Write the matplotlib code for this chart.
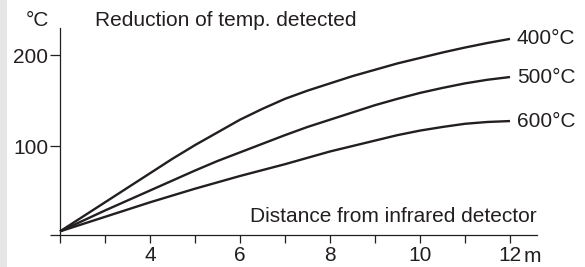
import matplotlib
matplotlib.use("Agg")
import matplotlib.pyplot as plt
from matplotlib.patches import Rectangle

plt.rcParams['font.family'] = ['Liberation Sans', 'DejaVu Sans']

distance = [2, 2.5, 3, 3.5, 4, 4.5, 5, 5.5, 6, 6.5, 7, 7.5, 8, 8.5, 9, 9.5,
            10, 10.5, 11, 11.5, 12]
t400 = [6, 22, 38, 54, 70, 86, 101, 115, 129, 141, 152, 161, 169, 177, 184,
        191, 197, 203, 208.5, 213.5, 218]
t500 = [6, 17.5, 29, 40, 51, 62, 73, 83.5, 93, 102.5, 112, 121, 129, 137, 145,
        152, 158.5, 164, 169, 173, 176]
t600 = [6, 14, 22, 30, 38, 45.5, 53, 60, 67, 73.5, 80, 87, 94, 100, 106, 112,
        117, 121, 124.5, 126.5, 127.5]
series = [("400°C", t400), ("500°C", t500), ("600°C", t600)]
major_x = [4, 6, 8, 10, 12]
major_x_labels = ["4", "6", "8", "10", "12"]
minor_x = [2, 3, 5, 7, 9, 11]
major_y = [100, 200]

ink = "#231f20"
FS = 15
fig = plt.figure(figsize=(5.85, 2.67), dpi=100)
fig.patches.append(Rectangle((0, 0), 7 / 585, 1, transform=fig.transFigure,
                             facecolor="#e6e6e7", edgecolor="none", zorder=0))
ax = fig.add_axes([60 / 585, 1 - 235 / 267, 477 / 585, 207 / 267])
ax.set_xlim(2, 12.6)
ax.set_ylim(2, 230)

for name, vals in series:
    ax.plot(distance, vals, color=ink, lw=1.7, solid_capstyle="butt",
            solid_joinstyle="round", clip_on=False)
    ax.annotate(name, xy=(distance[-1], vals[-1]), xytext=(5, 0),
                textcoords="offset points", va="center", ha="left",
                fontsize=FS, color=ink)

for s in ["top", "right"]:
    ax.spines[s].set_visible(False)
for s in ["left", "bottom"]:
    ax.spines[s].set_color(ink)
    ax.spines[s].set_linewidth(0.9)

ax.set_xticks(major_x)
ax.set_xticklabels(major_x_labels)
ax.set_xticks(minor_x, minor=True)
ax.set_yticks(major_y)
ax.set_yticks([2], minor=True)
ax.tick_params(axis="x", which="both", direction="out", length=6, width=0.9,
               color=ink, labelcolor=ink, labelsize=FS, pad=2)
ax.tick_params(axis="y", which="both", direction="out", length=7.5, width=0.9,
               color=ink, labelcolor=ink, labelsize=FS, pad=1)

fig.text(524 / 585, 1 - 262 / 267, "m", fontsize=FS, color=ink,
         ha="left", va="baseline")
fig.text(37 / 585, 1 - 20 / 267, "°C", fontsize=FS, color=ink, ha="center", va="center")
fig.text(95 / 585, 1 - 20 / 267, "Reduction of temp. detected", fontsize=FS,
         color=ink, ha="left", va="center")
fig.text(537 / 585, 1 - 216 / 267, "Distance from infrared detector", fontsize=FS,
         color=ink, ha="right", va="center")

fig.savefig("out.png", dpi=100)
